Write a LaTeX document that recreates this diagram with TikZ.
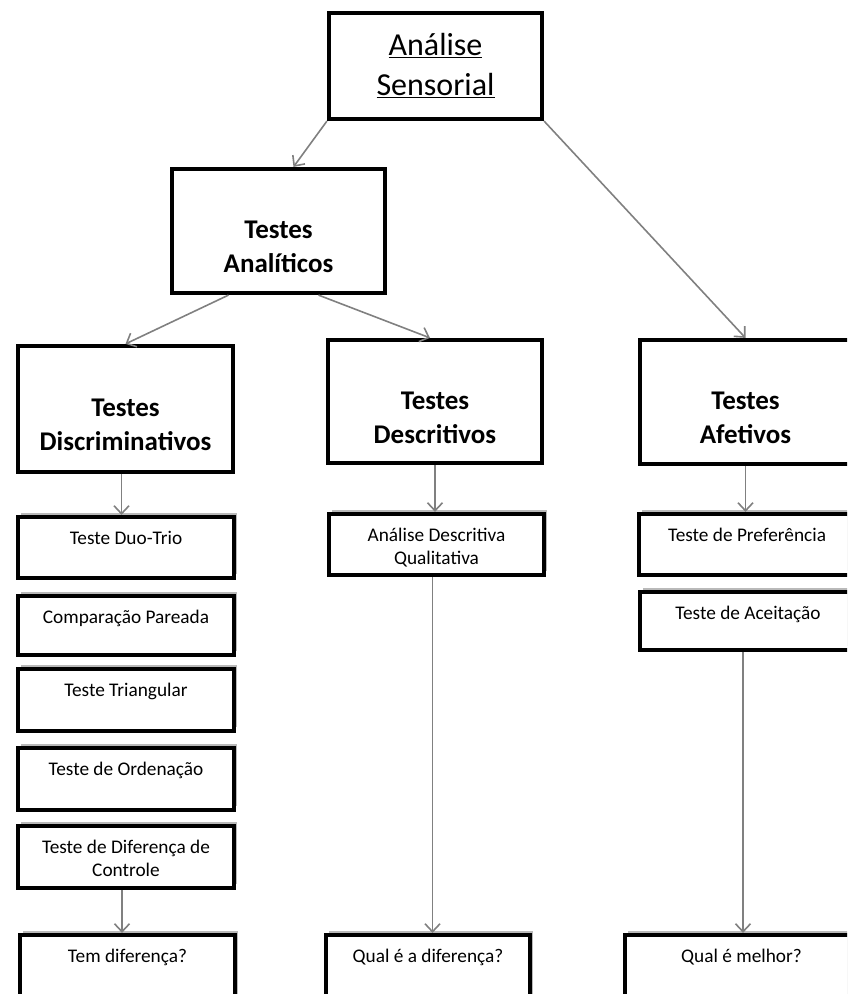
\documentclass[tikz,border=0pt]{standalone}
\usepackage{fontspec}
\setmainfont{Carlito}
\usetikzlibrary{arrows.meta,shadows}

\tikzset{
  bigbox/.style={draw, line width=4.2pt, fill=white, inner sep=0pt},
  toptxt/.style={font=\fontsize{32}{40}\selectfont, align=center},
  bigtxt/.style={font=\fontsize{27}{34}\selectfont\bfseries, align=center, yshift=-16pt},
  smallbox/.style={draw, line width=4.2pt, fill=white, inner sep=0pt,
    drop shadow={shadow xshift=3pt, shadow yshift=4pt, fill=gray!55, opacity=1}},
  smalltxt/.style={font=\fontsize{19.3}{23}\selectfont, align=center, anchor=north, yshift=-16pt, inner sep=0pt},
  seta/.style={draw=gray, line width=1.6pt, -{Straight Barb[length=8pt,width=15pt]}}
}

\begin{document}
\begin{tikzpicture}[x=1pt,y=-1pt]

\useasboundingbox (0,0) rectangle (847,994);
\clip (0,0) rectangle (847,994);

\node[bigbox, minimum width=213pt, minimum height=106pt,
  label={[toptxt]center:\underline{Análise}\\\underline{Sensorial}}] (sens) at (435.5,66) {};

\node[bigbox, minimum width=213pt, minimum height=124pt,
  label={[bigtxt]center:Testes\\Analíticos}] (anal) at (278.5,231) {};

\node[bigbox, minimum width=215pt, minimum height=126pt,
  label={[bigtxt]center:Testes\\Discriminativos}] (disc) at (125.5,409) {};
\node[bigbox, minimum width=214pt, minimum height=123pt,
  label={[bigtxt]center:Testes\\Descritivos}] (desc) at (435,401.5) {};
\node[bigbox, minimum width=211pt, minimum height=124pt,
  label={[bigtxt]center:Testes\\Afetivos}] (afet) at (745.5,402) {};

% discriminativos
\node[smallbox, minimum width=216pt, minimum height=61pt,
  label={[smalltxt]north:Teste Duo-Trio}] (duo) at (126,547.5) {};
\node[smallbox, minimum width=216pt, minimum height=59pt,
  label={[smalltxt]north:Comparação Pareada}] (comp) at (126,625.5) {};
\node[smallbox, minimum width=216pt, minimum height=62pt,
  label={[smalltxt]north:Teste Triangular}] (tri) at (126,700) {};
\node[smallbox, minimum width=216pt, minimum height=62pt,
  label={[smalltxt]north:Teste de Ordenação}] (ord) at (126,779) {};
\node[smallbox, minimum width=216pt, minimum height=62pt,
  label={[smalltxt]north:Teste de Diferença de\\Controle}] (dif) at (126,857) {};
\node[smallbox, minimum width=215pt, minimum height=80pt,
  label={[smalltxt]north:Tem diferença?}] (tem) at (127.5,975) {};

% descritivos
\node[smallbox, minimum width=215pt, minimum height=61pt,
  label={[smalltxt]north:Análise Descritiva\\Qualitativa}] (adq) at (436.5,544.5) {};
\node[smallbox, minimum width=204pt, minimum height=80pt,
  label={[smalltxt]north:Qual é a diferença?}] (qdif) at (428,975) {};

% afetivos
\node[smallbox, minimum width=216pt, minimum height=61pt,
  label={[smalltxt]north:Teste de Preferência}] (pref) at (747,544.5) {};
\node[smallbox, minimum width=216pt, minimum height=58pt,
  label={[smalltxt]north:Teste de Aceitação}] (acei) at (748,621) {};
\node[smallbox, minimum width=233pt, minimum height=80pt,
  label={[smalltxt]north:Qual é melhor?}] (qmel) at (741.5,975) {};

\draw[seta] (sens.south west) -- ([xshift=15pt]anal.north);
\draw[seta] (sens.south east) -- (afet.north);
\draw[seta] ([xshift=-50pt]anal.south) -- (disc.north);
\draw[seta] ([xshift=40pt]anal.south) -- ([xshift=-5pt]desc.north);

\draw[seta] ([xshift=-4pt]disc.south) -- ([xshift=-4pt]disc.south |- duo.north);
\draw[seta] (desc.south) -- (desc.south |- adq.north);
\draw[seta] (afet.south) -- (afet.south |- pref.north);

\draw[seta] ([xshift=-4pt]dif.south) -- ([xshift=-4pt]dif.south |- tem.north);
\draw[seta] ([xshift=-4pt]adq.south) -- ([xshift=-4pt]adq.south |- qdif.north);
\draw[seta] ([xshift=-5pt]acei.south) -- ([xshift=-5pt]acei.south |- qmel.north);

\end{tikzpicture}
\end{document}
